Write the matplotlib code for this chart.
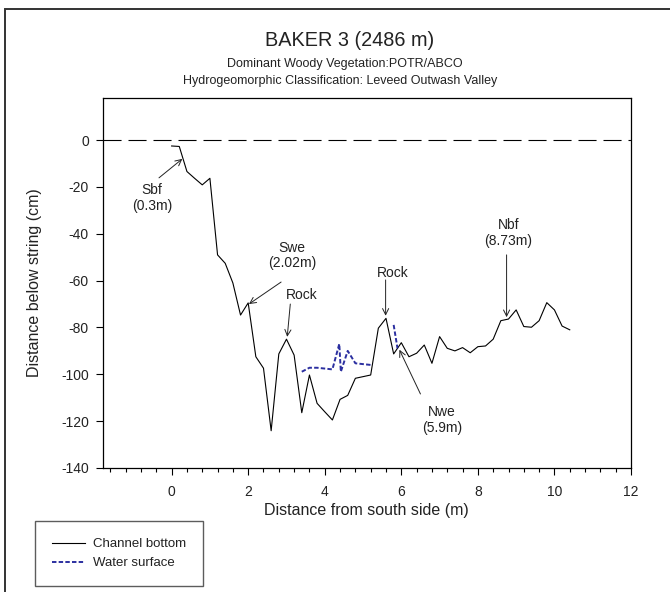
import matplotlib
matplotlib.use('Agg')
import matplotlib.pyplot as plt
from matplotlib.ticker import MultipleLocator
from matplotlib.patches import Rectangle
import numpy as np

plt.rcParams['font.family'] = ['Liberation Sans', 'DejaVu Sans']
plt.rcParams['lines.scale_dashes'] = False
plt.rcParams['axes.unicode_minus'] = False

# channel profile (m from south side, cm below string)
channel_x = [0, 0.2, 0.4, 0.6, 0.8, 1.0, 1.2, 1.4, 1.6, 1.8, 2.0, 2.2, 2.4, 2.6,
             2.8, 3.0, 3.2, 3.4, 3.6, 3.8, 4.0, 4.2, 4.4, 4.6, 4.8, 5.0, 5.2, 5.4,
             5.6, 5.8, 6.0, 6.2, 6.4, 6.6, 6.8, 7.0, 7.2, 7.4, 7.6, 7.8, 8.0, 8.2,
             8.4, 8.6, 8.8, 9.0, 9.2, 9.4, 9.6, 9.8, 10.0, 10.2, 10.4]
channel_y = [-2.5, -2.7, -13.4, -16.3, -19.1, -16.3, -49, -52.6, -61, -74.7, -69.5,
             -92.5, -97.4, -124.1, -91.3, -85, -91.8, -116.4, -100.3, -112.4, -116,
             -119.5, -110.7, -109, -101.7, -101, -100.3, -80.3, -76.1, -91.3, -86.5,
             -92.5, -91, -87.5, -95.3, -83.9, -88.9, -90, -88.6, -90.8, -88.2, -87.9,
             -85, -77.1, -76.4, -72.5, -79.6, -79.9, -77.1, -69.4, -72.5, -79.4, -81]

water_x = [3.4, 3.6, 3.8, 4.2, 4.38, 4.42, 4.6, 4.8, 5.2, np.nan, 5.8, 5.9]
water_y = [-98.9, -97.2, -97.2, -97.9, -87, -98.9, -90, -95.3, -96, np.nan, -78.9, -88.9]

# label, text position, arrow tail, arrow head
notes = [
    ("Sbf\n(0.3m)", (-0.51, -24.7), (-0.33, -16.1), (0.28, -8.0)),
    ("Swe\n(2.02m)", (3.14, -49.3), (2.86, -60.6), (2.02, -70.0)),
    ("Rock", (3.39, -66.0), (3.1, -70.0), (3.02, -84.0)),
    ("Rock", (5.77, -56.6), (5.59, -59.7), (5.59, -75.0)),
    ("Nwe\n(5.9m)", (7.06, -119.5), (6.5, -108.4), (5.95, -89.5)),
    ("Nbf\n(8.73m)", (8.8, -39.6), (8.75, -49.0), (8.75, -75.6)),
]

fig = plt.figure(figsize=(6.7, 5.92), dpi=100)
ax = fig.add_axes([0.1533, 0.2095, 0.7885, 0.625])

# outer frame, cut off at right and bottom like the source
fig.patches.append(Rectangle((5 / 670, -0.05), 1.2, 1 - 9 / 592 + 0.05,
                             transform=fig.transFigure, fill=False,
                             edgecolor='#333333', lw=1.4))

ax.axhline(0, color='black', lw=0.8, dashes=(13, 5))
ax.plot(channel_x, channel_y, color='black', lw=0.8, label='Channel bottom')
ax.plot(water_x, water_y, color='#2b2fa0', lw=1.4, dashes=(3.2, 1.6),
        label='Water surface')

for label, txt, tail, head in notes:
    ax.text(txt[0], txt[1], label, ha='center', va='center', fontsize=10,
            color='#222222', linespacing=1.15)
    ax.annotate('', xy=head, xytext=tail,
                arrowprops=dict(arrowstyle='->', lw=0.7, color='#222222',
                                shrinkA=0, shrinkB=0, mutation_scale=11))

ax.set_xlim(-1.8, 12)
ax.set_ylim(-140, 18)
ax.xaxis.set_major_locator(MultipleLocator(2))
ax.xaxis.set_minor_locator(MultipleLocator(0.4))
ax.yaxis.set_major_locator(MultipleLocator(20))
ax.tick_params(axis='both', which='major', direction='out', length=5, width=0.8,
               labelsize=10, labelcolor='#222222', pad=5)
ax.tick_params(axis='x', which='minor', direction='out', length=3, width=0.8)
ax.tick_params(axis='x', which='major', pad=7)
for s in ax.spines.values():
    s.set_linewidth(0.9)

ax.set_xlabel("Distance from south side (m)", fontsize=11.5, color='#222222', labelpad=3)
ax.set_ylabel("Distance below string (cm)", fontsize=11.5, color='#222222', labelpad=14)

fig.text(0.522, 0.932, "BAKER 3 (2486 m)", ha='center', va='center',
         fontsize=14.3, color='#222222')
fig.text(0.514, 0.892, "Dominant Woody Vegetation:POTR/ABCO", ha='center',
         va='center', fontsize=9, color='#222222')
fig.text(0.507, 0.864, "Hydrogeomorphic Classification: Leveed Outwash Valley",
         ha='center', va='center', fontsize=9, color='#222222')

leg = fig.legend(loc='upper left', bbox_to_anchor=(35 / 670, 1 - 521 / 592),
                 fontsize=9.5, frameon=True, fancybox=False, borderaxespad=0,
                 handlelength=2.5, handletextpad=0.6, borderpad=1.3,
                 labelspacing=0.5)
leg.get_frame().set_edgecolor('#333333')
leg.get_frame().set_linewidth(1.0)
for t in leg.get_texts():
    t.set_color('#222222')

fig.savefig('out.png', dpi=100)
